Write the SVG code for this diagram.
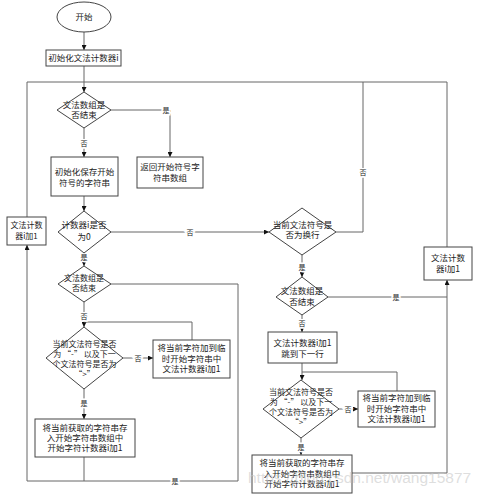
<svg xmlns="http://www.w3.org/2000/svg" width="484" height="497" viewBox="0 0 484 497">
<style>
.n{fill:#fff;stroke:#444;stroke-width:1}
.c{fill:none;stroke:#666;stroke-width:1}
.t{font-family:"Noto Sans CJK SC","Noto Sans",sans-serif;font-size:8.5px;fill:#222;text-anchor:middle}
.s{font-size:8px}
.l{font-family:"Noto Sans CJK SC","Noto Sans",sans-serif;font-size:7px;fill:#222;text-anchor:middle;stroke:#fff;stroke-width:3;paint-order:stroke}
</style>
<defs>
<marker id="a" viewBox="0 0 6 6" refX="6" refY="3" markerWidth="5" markerHeight="5" markerUnits="userSpaceOnUse" orient="auto">
<path d="M0,0L6,3L0,6z" fill="#111"/>
</marker>
</defs>
<rect width="484" height="497" fill="#fff"/>
<g id="connectors">
<path class="c" d="M84,32V50" marker-end="url(#a)"/>
<path class="c" d="M84,66V92" marker-end="url(#a)"/>
<path class="c" d="M27,217V82H447V247"/>
<path class="c" d="M336,232H363V82"/>
<path class="c" d="M111,110H170V157" marker-end="url(#a)"/>
<path class="c" d="M84,128V157" marker-end="url(#a)"/>
<path class="c" d="M84,196V211" marker-end="url(#a)"/>
<path class="c" d="M111,232H269" marker-end="url(#a)"/>
<path class="c" d="M84,253V266" marker-end="url(#a)"/>
<path class="c" d="M111,284H238V481H27V245" marker-end="url(#a)"/>
<path class="c" d="M84,302V327" marker-end="url(#a)"/>
<path class="c" d="M192,340V322H84"/>
<path class="c" d="M123,358H153" marker-end="url(#a)"/>
<path class="c" d="M84,389V419" marker-end="url(#a)"/>
<path class="c" d="M84,457V481"/>
<path class="c" d="M302,255V277" marker-end="url(#a)"/>
<path class="c" d="M328,297H447"/>
<path class="c" d="M352,473H447V280" marker-end="url(#a)"/>
<path class="c" d="M302,315V332" marker-end="url(#a)"/>
<path class="c" d="M302,363V380" marker-end="url(#a)"/>
<path class="c" d="M397,391V372H302"/>
<path class="c" d="M339,409H358" marker-end="url(#a)"/>
<path class="c" d="M301,438V455" marker-end="url(#a)"/>
<text class="l" x="166" y="112.5">是</text>
<text class="l" x="84" y="145.5">否</text>
<text class="l" x="363" y="174.5">否</text>
<text class="l" x="190" y="234.5">否</text>
<text class="l" x="84" y="259.5">是</text>
<text class="l" x="84" y="318.5">否</text>
<text class="l" x="138" y="360.5">否</text>
<text class="l" x="84" y="405.5">是</text>
<text class="l" x="175" y="483.5">是</text>
<text class="l" x="302" y="269.5">是</text>
<text class="l" x="396" y="299.5">是</text>
<text class="l" x="302" y="325.5">否</text>
<text class="l" x="348" y="411.5">否</text>
<text class="l" x="301" y="449.5">是</text>
</g>
<g id="start"><ellipse class="n" cx="84" cy="17" rx="27" ry="15"/><text class="t" x="84" y="20">开始</text></g>
<g id="init"><rect class="n" x="46" y="50" width="75" height="16"/><text class="t" x="83.5" y="61">初始化文法计数器i</text></g>
<g id="d1"><path class="n" d="M84,92L111,110L84,128L57,110z"/><text class="t" x="84" y="108">文法数组是</text><text class="t" x="84" y="118">否结束</text></g>
<g id="ret"><rect class="n" x="137" y="157" width="66" height="31"/><text class="t" x="170" y="170">返回开始符号字</text><text class="t" x="170" y="181">符串数组</text></g>
<g id="initStr"><rect class="n" x="51" y="157" width="67" height="39"/><text class="t" x="84.5" y="175">初始化保存开始</text><text class="t" x="84.5" y="186">符号的字符串</text></g>
<g id="leftInc"><rect class="n" x="7" y="217" width="39" height="28"/><text class="t s" x="26.5" y="227.5">文法计数</text><text class="t s" x="26.5" y="238.5">器i加1</text></g>
<g id="d2"><path class="n" d="M84,211L111,232L84,253L58,232z"/><text class="t" x="84" y="228">计数器i是否</text><text class="t" x="84" y="240">为0</text></g>
<g id="d3"><path class="n" d="M84,266L111,284L84,302L58,284z"/><text class="t s" x="84" y="280.5">文法数组是</text><text class="t s" x="84" y="290.5">否结束</text></g>
<g id="d4"><path class="n" d="M84,327L123,358L84,389L46,358z"/><text class="t s" x="84.5" y="346.5">当前文法符号是否</text><text class="t s" x="84.5" y="356.5">为 “-” 以及下一</text><text class="t s" x="84.5" y="366.5">个文法符号是否为</text><text class="t s" x="84.5" y="376.5">“&gt;”</text></g>
<g id="addL"><rect class="n" x="153" y="340" width="77" height="38"/><text class="t" x="191.5" y="351">将当前字符加到临</text><text class="t" x="191.5" y="362">时开始字符串中</text><text class="t" x="191.5" y="372">文法计数器i加1</text></g>
<g id="saveL"><rect class="n" x="35" y="419" width="100" height="38"/><text class="t" x="85" y="431">将当前获取的字符串存</text><text class="t" x="85" y="441">入开始字符串数组中</text><text class="t" x="85" y="451">开始字符计数器i加1</text></g>
<g id="d5"><path class="n" d="M302,208L336,232L302,255L269,232z"/><text class="t" x="302.5" y="228">当前文法符号是</text><text class="t" x="302.5" y="238">否为换行</text></g>
<g id="d6"><path class="n" d="M302,277L328,297L302,315L276,297z"/><text class="t" x="302" y="294">文法数组是</text><text class="t" x="302" y="305">否结束</text></g>
<g id="rightInc"><rect class="n" x="424" y="247" width="48" height="33"/><text class="t" x="448" y="261">文法计数</text><text class="t" x="448" y="272">器i加1</text></g>
<g id="nextLine"><rect class="n" x="268" y="332" width="69" height="31"/><text class="t" x="302.5" y="346">文法计数器i加1</text><text class="t" x="302.5" y="357">跳到下一行</text></g>
<g id="d7"><path class="n" d="M301,380L339,409L301,438L263,409z"/><text class="t s" x="301" y="394.5">当前文法符号是否</text><text class="t s" x="301" y="404.5">为 “-” 以及下一</text><text class="t s" x="301" y="414.5">个文法符号是否为</text><text class="t s" x="301" y="424.5">“&gt;”</text></g>
<g id="addR"><rect class="n" x="358" y="391" width="77" height="36"/><text class="t" x="396.5" y="401">将当前字符加到临</text><text class="t" x="396.5" y="412">时开始字符串中</text><text class="t" x="396.5" y="422">文法计数器i加1</text></g>
<g id="saveR"><rect class="n" x="252" y="455" width="100" height="38"/><text class="t" x="302" y="466">将当前获取的字符串存</text><text class="t" x="302" y="477">入开始字符串数组中</text><text class="t" x="302" y="487">开始字符计数器i加1</text></g>
<text x="248" y="483" font-family="Liberation Sans, Arial, sans-serif" font-size="15.5" fill="#c8c8c8" fill-opacity="0.6">https://blog.csdn.net/wang15877</text>
</svg>
